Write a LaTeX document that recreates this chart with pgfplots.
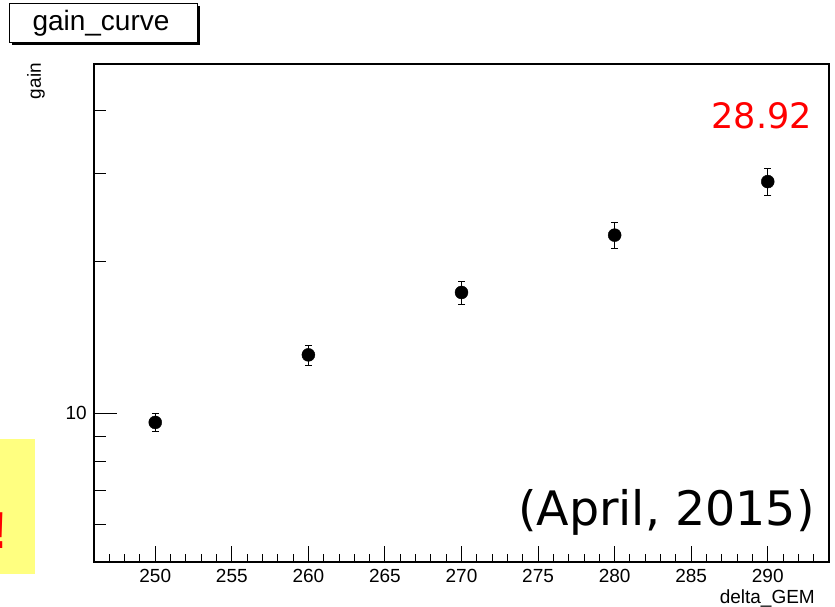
\documentclass[border=0pt]{standalone}
\usepackage{pgfplots}
\pgfplotsset{compat=1.18}
\usepackage{fontspec}
\setmainfont{Liberation Sans}
\newfontfamily\dejavu{DejaVu Sans}
\definecolor{rootyellow}{RGB}{255,255,128}

\pgfplotstableread{
x y ey
250 9.58 0.39
260 13.06 0.60
270 17.39 0.92
280 22.62 1.37
290 28.92 1.85
}\gaindata

\begin{document}
\begin{tikzpicture}
\useasboundingbox (0pt,0pt) rectangle (835pt,606pt);
% yellow box at left (cut off)
\fill[rootyellow] (0pt,32pt) rectangle (35pt,167pt);
\node[anchor=base east, inner sep=0pt, text=red, font=\fontsize{52}{60}\selectfont\bfseries] at (8.5pt,58pt) {!};

\begin{axis}[
  ymode=log,
  at={(94pt,44pt)}, anchor=south west,
  scale only axis, width=735pt, height=498pt,
  xmin=246, xmax=294, ymin=5.05, ymax=49.6,
  axis line style={line width=1.2pt, black},
  tick style={line width=1pt, black},
  tick align=inside,
  xtick pos=bottom, ytick pos=left,
  ticklabel style={font=\fontsize{19}{23}\selectfont},
  /pgf/number format/assume math mode=true,
  xtick={250,255,...,290},
  minor xtick={247,248,...,293},
  major tick length=16pt, minor tick length=8pt,
  ytick=\empty, minor ytick={},
  xticklabel style={anchor=base, yshift=-21pt, inner sep=0pt},
]
\addplot[only marks, mark=*, mark size=6.5pt, black,
  error bars/.cd, y dir=both, y explicit,
  error bar style={line width=1pt, black},
  error mark=-,
  error mark options={rotate=90, line width=1pt, mark size=3.5pt, black}]
  table[x=x, y=y, y error=ey]{\gaindata};
\end{axis}

\begin{axis}[
  ymode=log,
  at={(94pt,44pt)}, anchor=south west,
  scale only axis, width=735pt, height=498pt,
  xmin=246, xmax=294, ymin=5.05, ymax=49.6,
  axis line style={line width=1.2pt, black},
  tick style={line width=1pt, black},
  tick align=inside,
  xtick pos=bottom, ytick pos=left,
  ticklabel style={font=\fontsize{19}{23}\selectfont},
  /pgf/number format/assume math mode=true,
  xtick=\empty, minor xtick={},
  ytick={10}, yticklabels={10},
  minor ytick={6,7,8,9,20,30,40},
  major tick length=23pt, minor tick length=12pt,
  yticklabel style={anchor=east, inner sep=0pt, xshift=-7pt},
]
\addplot[draw=none, mark=none] coordinates {(250,10) (290,20)};
\end{axis}

% title box
\fill[black] (11.5pt,561pt) rectangle (199.5pt,600pt);
\draw[line width=1pt, black, fill=white] (9.5pt,563pt) rectangle (197pt,602pt);
\node[font=\fontsize{28}{32}\selectfont, inner sep=0pt] at (101pt,582.5pt) {gain\_curve};

% axis labels
\node[anchor=base east, inner sep=0pt, font=\fontsize{19}{23}\selectfont] at (815pt,3pt) {delta\_GEM};
\node[rotate=90, anchor=east, inner sep=0pt, font=\fontsize{19}{23}\selectfont] at (36pt,543pt) {gain};

% annotations
\node[anchor=base east, inner sep=0pt, text=red, font=\dejavu\fontsize{35}{40}\selectfont] at (812pt,477.7pt) {28.92};
\node[anchor=base east, inner sep=0pt, font=\dejavu\fontsize{47.5}{54}\selectfont] at (815pt,81pt) {(April, 2015)};
\end{tikzpicture}
\end{document}
